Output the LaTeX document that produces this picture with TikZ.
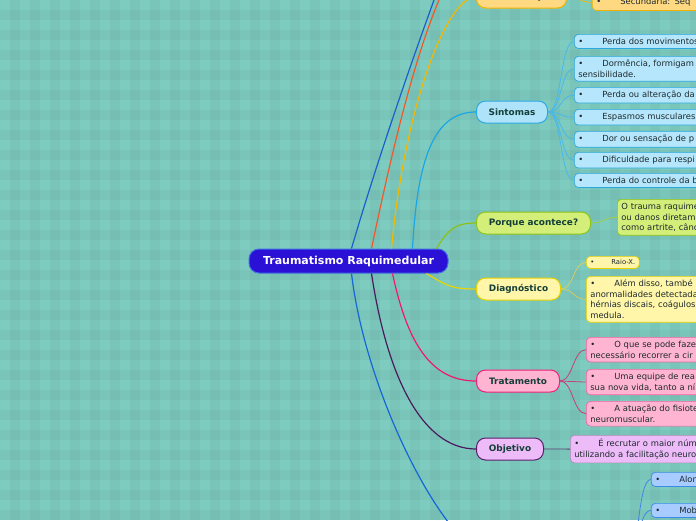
\documentclass[tikz,border=0pt]{standalone}
\usepackage{fontspec}
\setmainfont{DejaVu Sans}
\usetikzlibrary{positioning, calc}
\definecolor{bgteal}{HTML}{7ECCC0}
\definecolor{labelc}{HTML}{133F38}
\definecolor{leafc}{HTML}{1E2A2E}
\definecolor{corefill}{HTML}{2B10D6}
\definecolor{coreedge}{HTML}{3F6FE4}
\definecolor{topblue}{HTML}{1B5FCC}
\definecolor{toporange}{HTML}{F0582A}
\definecolor{classline}{HTML}{F5B800}
\definecolor{classfill}{HTML}{FFD981}
\definecolor{classedge}{HTML}{F2B200}
\definecolor{sintline}{HTML}{1AA6E4}
\definecolor{sintfill}{HTML}{AEE3F9}
\definecolor{sintedge}{HTML}{2CA8E0}
\definecolor{sintleaf}{HTML}{B5E6FB}
\definecolor{porqline}{HTML}{8DC014}
\definecolor{porqfill}{HTML}{D3EF7A}
\definecolor{porqedge}{HTML}{8CC21A}
\definecolor{diagline}{HTML}{E8D400}
\definecolor{diagfill}{HTML}{FFF6AA}
\definecolor{diagedge}{HTML}{E6D000}
\definecolor{tratline}{HTML}{F01870}
\definecolor{tratfill}{HTML}{FFB4D2}
\definecolor{tratedge}{HTML}{F0207A}
\definecolor{objline}{HTML}{4A1A5C}
\definecolor{objfill}{HTML}{EDBBF8}
\definecolor{objedge}{HTML}{5A1F6A}
\definecolor{botline}{HTML}{1566D8}
\definecolor{botfill}{HTML}{A8CCFF}
\definecolor{botedge}{HTML}{3C8CE6}
\newcommand{\leafdot}{•\hspace{19pt}}

\begin{document}
\begin{tikzpicture}[
    x=1pt, y=-1pt,
    core/.style={rectangle, rounded corners=10pt, fill=corefill, draw=coreedge, line width=1pt,
                 minimum width=199pt, minimum height=24pt, text=white,
                 font=\fontsize{11}{12}\selectfont\bfseries},
    topic/.style={rectangle, rounded corners=9pt, line width=1pt, anchor=west,
                  minimum height=22pt, text=labelc, font=\fontsize{8.9}{10}\selectfont\bfseries},
    leafbox/.style={rectangle, rounded corners=4pt, line width=0.7pt, anchor=north west,
                    align=left, inner xsep=4pt, inner ysep=3.8pt, text=leafc,
                    font=\fontsize{8.4}{10.5}\selectfont},
    leaf/.style={leafbox, text width=190pt},
    branch/.style={line width=1.2pt},
    twig/.style={line width=0.8pt}
]
    % Background
    \useasboundingbox (0,0) rectangle (696,520);
    \clip (0,0) rectangle (696,520);
    \fill[bgteal] (0,0) rectangle (696,520);
    \foreach \i in {0,...,34} {
        \fill[black, opacity=0.03] (\i*20+10,0) rectangle +(10,520);
    }
    \foreach \j in {0,...,25} {
        \fill[black, opacity=0.03] (0,\j*20+10) rectangle +(696,10);
    }

    % Hidden ends above and below
    \coordinate (hidA) at (476,-110);
    \coordinate (hidB) at (476,-60);
    \coordinate (hidC) at (490,555);
    \coordinate (hidD) at (626,560);

    % Nodes
    \node[core] (trm) at (348.5,261) {Traumatismo Raquimedular};

    \node[topic, fill=classfill, draw=classedge, minimum width=90pt] (cls) at (476,-3) {Classificação};
    \node[topic, fill=sintfill, draw=sintedge, minimum width=71pt] (sint) at (476,112) {Sintomas};
    \node[topic, fill=porqfill, draw=porqedge, minimum width=114pt] (porq) at (476,223) {Porque acontece?};
    \node[topic, fill=diagfill, draw=diagedge, minimum width=84pt] (diag) at (476,289) {Diagnóstico};
    \node[topic, fill=tratfill, draw=tratedge, minimum width=83pt] (trat) at (476,381) {Tratamento};
    \node[topic, fill=objfill, draw=objedge, minimum width=67pt] (obj) at (476,449) {Objetivo};

    % Leaves
    \node[leaf, fill=classfill, draw=classedge] (cls1) at (592,-6) {\leafdot Secundária: Seq};

    \node[leaf, fill=sintleaf, draw=sintedge] (sint1) at (574,34) {\leafdot Perda dos movimentos};
    \node[leaf, fill=sintleaf, draw=sintedge] (sint2) at (574,56) {\leafdot Dormência, formigam\\sensibilidade.};
    \node[leaf, fill=sintleaf, draw=sintedge] (sint3) at (574,87) {\leafdot Perda ou alteração da};
    \node[leaf, fill=sintleaf, draw=sintedge] (sint4) at (574,109) {\leafdot Espasmos musculares};
    \node[leaf, fill=sintleaf, draw=sintedge] (sint5) at (574,131) {\leafdot Dor ou sensação de p};
    \node[leaf, fill=sintleaf, draw=sintedge] (sint6) at (574,152) {\leafdot Dificuldade para respi};
    \node[leaf, fill=sintleaf, draw=sintedge] (sint7) at (574,173) {\leafdot Perda do controle da b};

    \node[leaf, fill=porqfill, draw=porqedge] (porq1) at (617,199) {O trauma raquime\\ou danos diretam\\como artrite, cânc};

    \node[leafbox, fill=diagfill, draw=diagedge, font=\fontsize{6.8}{8}\selectfont, inner ysep=3.4pt] (diag1) at (586,256) {•\hspace{17pt}Raio-X.};
    \node[leaf, fill=diagfill, draw=diagedge] (diag2) at (586,276) {\leafdot Além disso, també\\anormalidades detectada\\hérnias discais, coágulos\\medula.};

    \node[leaf, fill=tratfill, draw=tratedge!70] (trat1) at (586,337) {\leafdot O que se pode faze\\necessário recorrer a cir};
    \node[leaf, fill=tratfill, draw=tratedge!70] (trat2) at (586,369) {\leafdot Uma equipe de rea\\sua nova vida, tanto a ní};
    \node[leaf, fill=tratfill, draw=tratedge!70] (trat3) at (586,401) {\leafdot A atuação do fisiote\\neuromuscular.};

    \node[leaf, fill=objfill, draw=objedge!50] (obj1) at (570,435) {\leafdot É recrutar o maior núm\\utilizando a facilitação neuro};

    \node[leaf, fill=botfill, draw=botedge] (bot1) at (651,472) {\leafdot Alon};
    \node[leaf, fill=botfill, draw=botedge] (bot2) at (651,503) {\leafdot Mob};

    % Branches
    \draw[branch, topblue] ($(trm.north west)+(103,0)$) .. controls +(38,-130) and +(-25,60) .. (hidA);
    \draw[branch, toporange] ($(trm.north west)+(123,0)$) .. controls +(23,-109) and +(-46,40) .. (hidB);
    \draw[branch, classline] ($(trm.north west)+(143,0)$) .. controls +(13,-140) and +(-30,0) .. (cls.west);
    \draw[branch, sintline] ($(trm.north west)+(164,0)$) .. controls +(5,-95) and +(-40,0) .. (sint.west);
    \draw[branch, porqline] ($(trm.north west)+(188,0)$) .. controls +(12,-20) and +(-20,0) .. (porq.west);
    \draw[branch, diagline] ($(trm.south west)+(178,0)$) .. controls +(20,12) and +(-25,0) .. (diag.west);
    \draw[branch, tratline] ($(trm.south west)+(144,0)$) .. controls +(15,70) and +(-45,0) .. (trat.west);
    \draw[branch, objline] ($(trm.south west)+(123,0)$) .. controls +(15,100) and +(-55,0) .. (obj.west);
    \draw[branch, botline] ($(trm.south west)+(103,0)$) .. controls +(15,127) and +(-40,0) .. (hidC);

    % Twigs
    \draw[twig, classline] (cls.east) .. controls +(13,0) and +(-13,0) .. (cls1.west);
    \foreach \k in {1,...,7} {
        \draw[twig, sintline!80] (sint.east) .. controls +(14,0) and +(-14,0) .. (sint\k.west);
    }
    \draw[twig, porqline!80] (porq.east) .. controls +(13,0) and +(-13,0) .. (porq1.west);
    \draw[twig, diagline!80!black!60] (diag.east) .. controls +(13,0) and +(-13,0) .. (diag1.west);
    \draw[twig, diagline!80!black!60] (diag.east) .. controls +(13,0) and +(-13,0) .. (diag2.west);
    \foreach \k in {1,2,3} {
        \draw[twig, tratline!60!gray] (trat.east) .. controls +(13,0) and +(-13,0) .. (trat\k.west);
    }
    \draw[twig, objline!70!gray] (obj.east) .. controls +(13,0) and +(-13,0) .. (obj1.west);
    \draw[twig, botline!80] (hidD) .. controls +(14,0) and +(-14,0) .. (bot1.west);
    \draw[twig, botline!80] (hidD) .. controls +(14,0) and +(-14,0) .. (bot2.west);
\end{tikzpicture}
\end{document}
